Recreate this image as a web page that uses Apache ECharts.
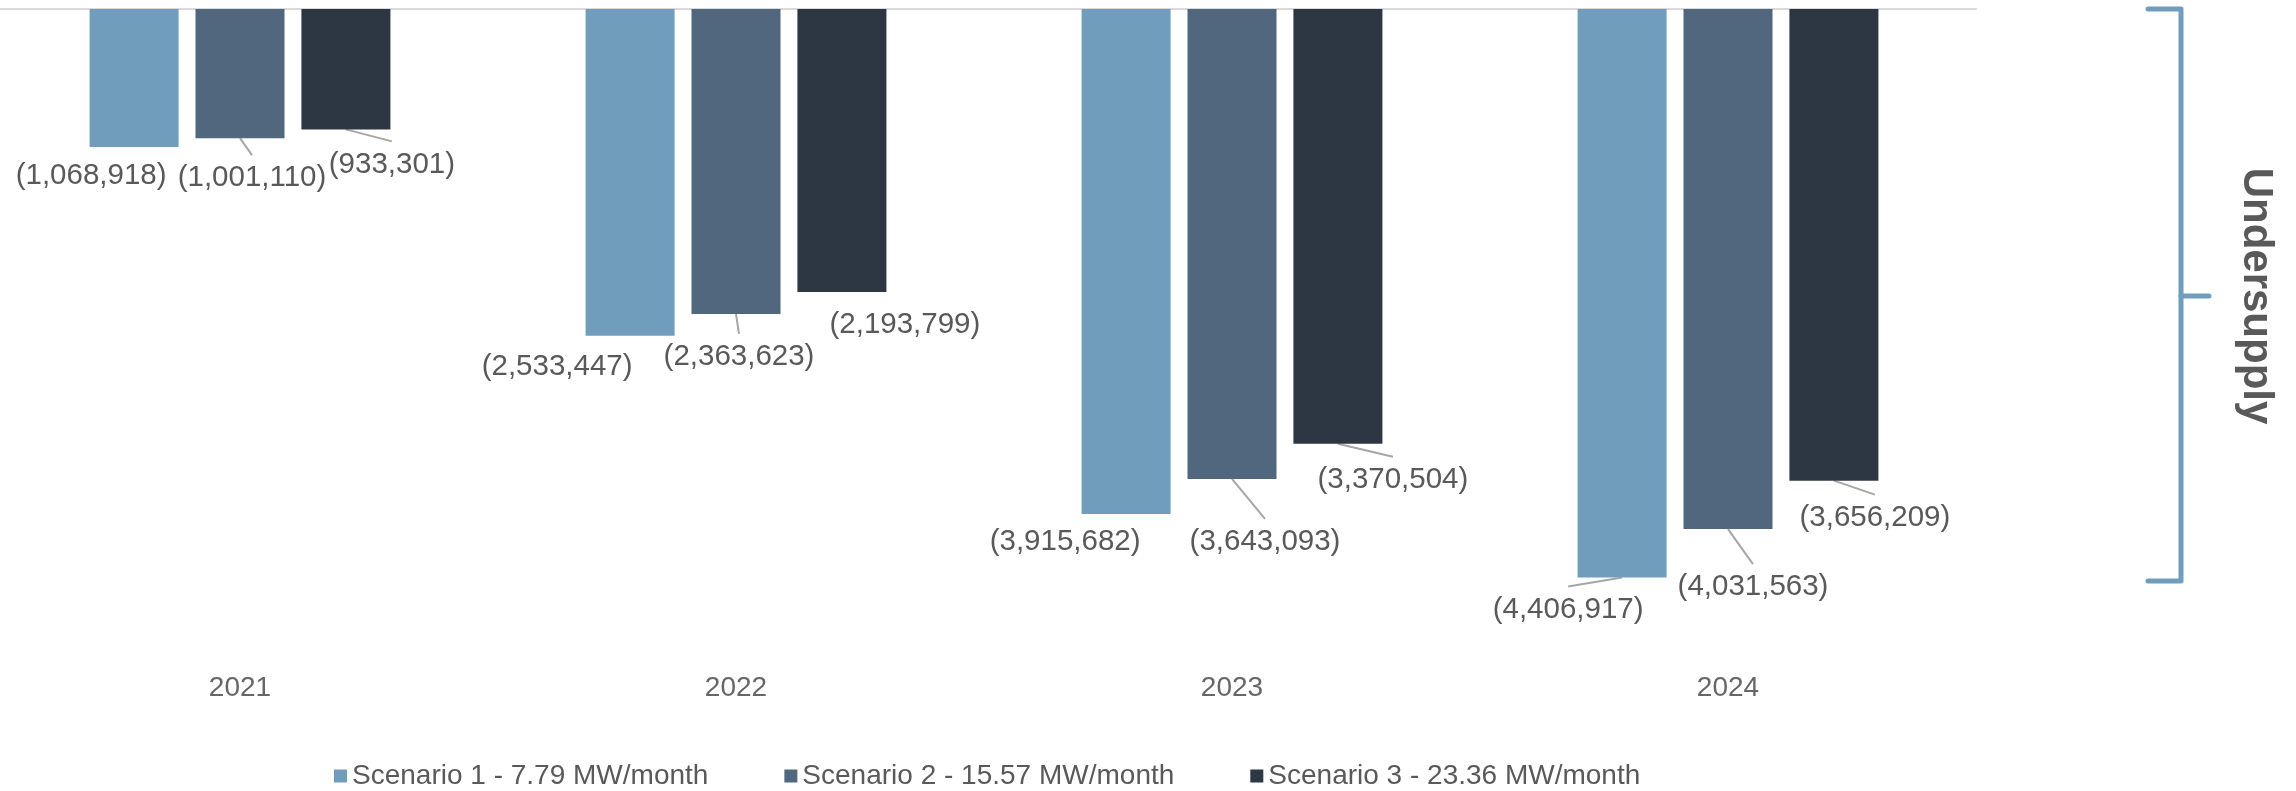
<!DOCTYPE html>
<html>
<head>
<meta charset="utf-8">
<script src="https://cdn.jsdelivr.net/npm/echarts@6/dist/echarts.min.js"></script>
<style>
html,body{margin:0;padding:0;background:#fff;overflow:hidden;}
#chart{width:2296px;height:791px;}
</style>
</head>
<body>
<div id="chart"></div>
<script>
const categories = ['2021', '2022', '2023', '2024'];
const seriesNames = ['Scenario 1 - 7.79 MW/month', 'Scenario 2 - 15.57 MW/month', 'Scenario 3 - 23.36 MW/month'];
const scenario1 = [-1068918, -2533447, -3915682, -4406917];
const scenario2 = [-1001110, -2363623, -3643093, -4031563];
const scenario3 = [-933301, -2193799, -3370504, -3656209];
const bracketLabel = 'Undersupply';

// label offsets (pixels) relative to the default label position, and which labels have a leader line
const labelOffsets = [
  [[-43, 9], [-73, 11], [-61, 8], [-54, 12]],
  [[12, 20], [3, 23], [33, 43], [25, 38]],
  [[46, 15], [63, 13], [55, 16], [41, 17]]
];
const leaderShown = [
  [false, false, false, true],
  [true, true, true, true],
  [true, false, true, true]
];
const colors = ['#719dbd', '#51677e', '#2d3743'];
const FONT = "'Liberation Sans', Arial, sans-serif";

const chart = echarts.init(document.getElementById('chart'));
const data = [scenario1, scenario2, scenario3];
const leaderLines = {};

const series = data.map((vals, si) => ({
  name: seriesNames[si],
  type: 'bar',
  data: vals,
  barWidth: 89,
  barGap: '19%',
  itemStyle: { color: colors[si] },
  label: {
    show: true,
    position: 'bottom',
    distance: 5,
    fontFamily: FONT,
    fontSize: 29.5,
    color: '#595959',
    formatter: p => '(' + Math.abs(p.value).toLocaleString('en-US') + ')'
  },
  labelLayout: p => {
    const off = labelOffsets[si][p.dataIndex];
    const r = p.rect, lr = p.labelRect;
    if (leaderShown[si][p.dataIndex]) {
      const sx = r.x + r.width / 2, sy = r.y + r.height;
      const ex = lr.x + lr.width / 2 + off[0];
      const ey = lr.y + lr.height / 2 + off[1] - 23;
      leaderLines[si + '_' + p.dataIndex] = [sx, sy, ex, ey];
    }
    return { dx: off[0], dy: off[1] };
  },
  emphasis: { disabled: true }
}));

const bracketGraphics = [
  {
    type: 'polyline',
    shape: { points: [[2148, 9], [2181, 9], [2181, 581], [2148, 581]] },
    style: { stroke: '#719dbd', lineWidth: 5, fill: null, lineJoin: 'round', lineCap: 'round' },
    silent: true
  },
  {
    type: 'line',
    shape: { x1: 2181, y1: 296, x2: 2209, y2: 296 },
    style: { stroke: '#719dbd', lineWidth: 5, lineCap: 'round' },
    silent: true
  },
  {
    type: 'text',
    x: 2256,
    y: 296,
    rotation: -Math.PI / 2,
    style: {
      text: bracketLabel,
      x: 0, y: 0,
      textAlign: 'center',
      textVerticalAlign: 'middle',
      fontFamily: FONT,
      fontSize: 42,
      fontWeight: 'bold',
      fill: '#595959'
    },
    silent: true
  }
];

chart.setOption({
  animation: false,
  backgroundColor: '#fff',
  color: colors,
  grid: { left: -8, top: 9, width: 1984, height: 645, containLabel: false, outerBoundsMode: 'none' },
  legend: {
    left: 329,
    top: 757,
    icon: 'rect',
    itemWidth: 13,
    itemHeight: 13,
    itemGap: 76,
    textStyle: { fontFamily: FONT, fontSize: 28, color: '#595959' },
    data: seriesNames
  },
  xAxis: [{
    type: 'category',
    data: categories,
    position: 'bottom',
    axisLine: { show: false, onZero: false },
    axisTick: { show: false },
    axisLabel: { fontFamily: FONT, fontSize: 28, color: '#666666', margin: 20 }
  }, {
    type: 'category',
    data: categories,
    position: 'top',
    axisLine: { show: true, onZero: false, lineStyle: { color: '#d9d9d9', width: 2 } },
    axisTick: { show: false },
    axisLabel: { show: false }
  }],
  yAxis: {
    type: 'value',
    min: -5000000,
    max: 0,
    interval: 5000000,
    show: false,
    splitLine: { show: false }
  },
  series: series,
  graphic: { elements: bracketGraphics }
});

// leader lines from the bar ends (from the library's layout) to the moved labels
const lineEls = Object.keys(leaderLines).map(k => {
  const [x1, y1, x2, y2] = leaderLines[k];
  return {
    type: 'line',
    shape: { x1, y1, x2, y2 },
    style: { stroke: '#a6a6a6', lineWidth: 2 },
    silent: true,
    z: 1
  };
});
chart.setOption({ graphic: { elements: bracketGraphics.concat(lineEls) } });
</script>
</body>
</html>
